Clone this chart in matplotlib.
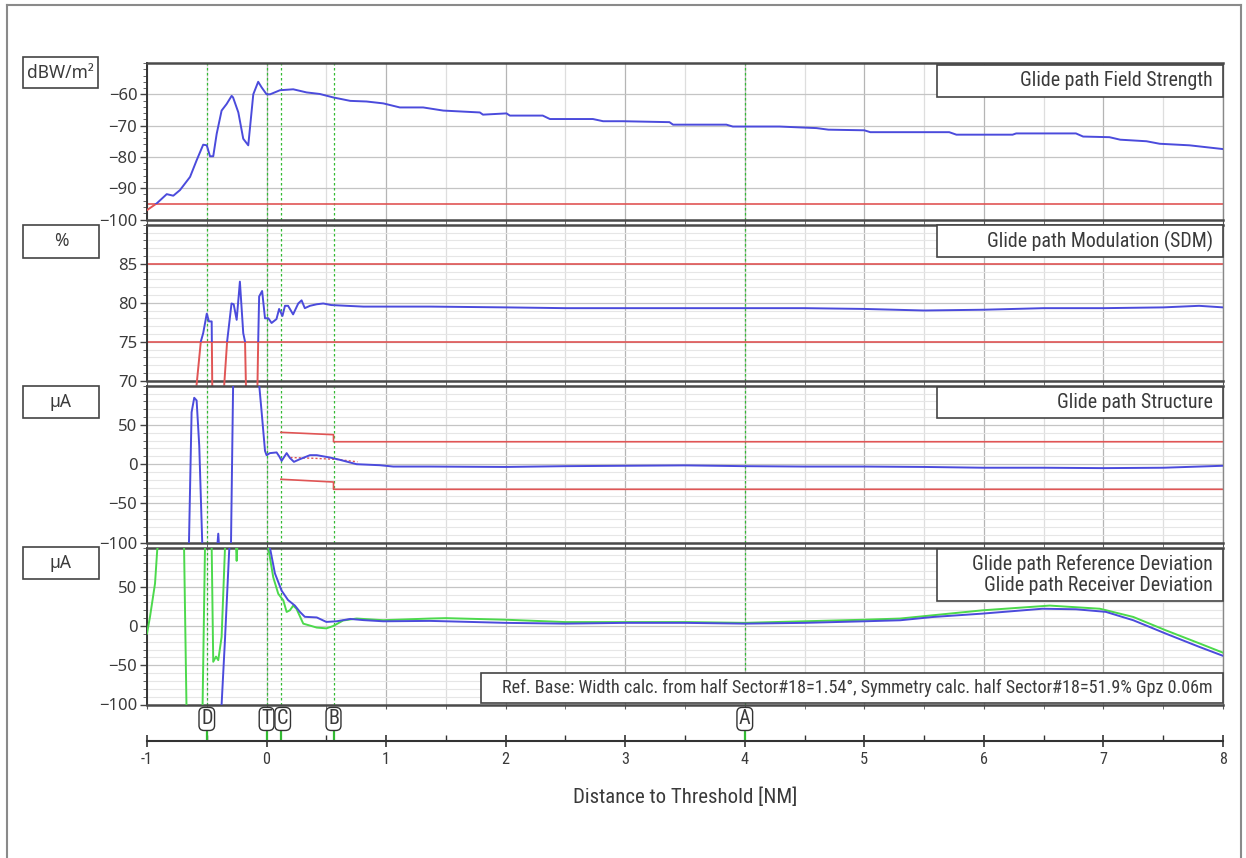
import os
import numpy as np
import matplotlib
matplotlib.use("Agg")
import matplotlib.pyplot as plt
from matplotlib import font_manager as fm
from matplotlib.patches import Rectangle
from matplotlib.lines import Line2D

# ---- data ----
# panel 1: glide path field strength [dBW/m2]
fs_x = [-1.0, -0.92, -0.835, -0.78, -0.724, -0.64, -0.585, -0.53, -0.50, -0.473, -0.446,
        -0.417, -0.376, -0.334, -0.292, -0.28, -0.236, -0.195, -0.153, -0.111, -0.07,
        -0.041, 0.0, 0.03, 0.112, 0.223, 0.335, 0.446, 0.558, 0.70, 0.836, 0.976, 1.115,
        1.31, 1.478, 1.784, 1.81, 2.007, 2.035, 2.31, 2.37, 2.73, 2.815, 2.98, 3.37, 3.40,
        3.846, 3.90, 4.29, 4.6, 4.7, 5.0, 5.05, 5.30, 5.71, 5.77, 6.24, 6.27, 6.77, 6.83,
        7.05, 7.14, 7.36, 7.47, 7.72, 8.0]
fs_y = [-97, -94.9, -91.9, -92.4, -90.6, -86.4, -81.1, -76.1, -76.3, -79.8, -79.8,
        -72.6, -65.2, -63.1, -60.5, -61, -65.8, -74.2, -76.3, -60, -56.0,
        -57.8, -60, -60, -58.7, -58.4, -59.4, -59.9, -61, -62.1, -62.3, -62.9, -64.2,
        -64.2, -65.2, -65.8, -66.5, -66.1, -66.8, -66.8, -67.9, -67.9, -68.6, -68.6, -68.9, -69.7,
        -69.7, -70.3, -70.3, -70.8, -71.3, -71.5, -72.1, -72.1, -72.1, -72.9, -72.9, -72.5, -72.5, -73.5,
        -73.7, -74.5, -75.0, -75.8, -76.3, -77.5]
fs_limit = -95

# panel 2: modulation SDM [%]
sdm_x = [-0.585, -0.55, -0.53, -0.50, -0.482, -0.459, -0.454, -0.40, -0.354, -0.33, -0.293,
         -0.275, -0.25, -0.223, -0.195, -0.18, -0.172, -0.12, -0.076, -0.07, -0.062, -0.037,
         -0.013, 0.015, 0.042, 0.083, 0.105, 0.133, 0.154, 0.18, 0.222, 0.265, 0.293, 0.32,
         0.363, 0.42, 0.474, 0.54, 0.67, 0.81, 1.37, 2.0, 2.5, 3.0, 3.5, 4.0, 4.5, 5.0, 5.5,
         6.0, 6.5, 7.0, 7.5, 7.8, 8.0]
sdm_y = [69.5, 75, 76.1, 78.6, 77.6, 77.6, 69.0, np.nan, 69.5, 75, 79.9,
         79.8, 77.8, 82.7, 76.1, 75, 69.0, np.nan, 69.5, 75, 80.8, 81.5,
         78.0, 78.0, 77.4, 77.9, 79.2, 78.3, 79.6, 79.6, 78.5, 79.9, 80.3, 79.3,
         79.6, 79.8, 79.9, 79.7, 79.6, 79.5, 79.5, 79.4, 79.3, 79.3, 79.3, 79.3, 79.3, 79.2, 79.0,
         79.1, 79.3, 79.3, 79.4, 79.6, 79.4]
sdm_limits = [75, 85]

# panel 3: structure [uA]
st_x = [-0.66, -0.649, -0.627, -0.605, -0.585, -0.563, -0.538, -0.53, -0.45, -0.415, -0.404,
        -0.395, -0.35, -0.30, -0.279, -0.2, -0.061, -0.041, -0.013, 0.0, 0.028, 0.084,
        0.106, 0.126, 0.168, 0.195, 0.229, 0.279, 0.363, 0.42, 0.53, 0.613, 0.753, 0.948,
        1.06, 1.37, 2.0, 2.5, 3.0, 3.5, 4.0, 4.5, 5.0, 5.5, 6.0, 6.5, 7.0, 7.5, 8.0]
st_y = [-130, -100, 66.2, 84.6, 81.2, 23.5, -100, -130, np.nan, -110, -88.5,
        -110, np.nan, -130, 109, 150, 100, 66.2, 17, 11.5, 14.1, 15,
        10, 4.3, 14.1, 8, 3, 6.4, 11.5, 11.5, 8.5, 5.6, 0, -1.3,
        -3, -3, -3.5, -2.5, -2, -1.5, -2.5, -3, -3, -3.5, -4.5, -4.5, -5, -4.5, -2]
st_up_x = [0.12, 0.56, 0.56, 8.0]
st_up_y = [40.6, 37.6, 28.6, 28.6]
st_lo_x = [0.12, 0.56, 0.56, 8.0]
st_lo_y = [-19.2, -22.7, -32, -32]
st_mean_x = [0.2, 0.4, 0.6, 0.76]
st_mean_y = [8.5, 7.5, 6, 3]

# panel 4: reference (green) and receiver (blue) deviation [uA]
ref_x = [-1.0, -0.975, -0.933, -0.914, -0.80, -0.69, -0.67, -0.60, -0.535, -0.515, -0.48,
         -0.459, -0.446, -0.423, -0.404, -0.376, -0.348, -0.30, -0.255, -0.25, -0.245, -0.20,
         0.014, 0.056, 0.098, 0.14, 0.168, 0.195, 0.223, 0.25, 0.307, 0.42, 0.50, 0.558,
         0.64, 0.753, 0.976, 1.09, 1.366, 1.5, 2.0, 2.5, 3.0, 3.5, 4.0, 4.5, 5.0, 5.3, 5.99,
         6.55, 6.97, 7.25, 7.52, 7.80, 8.0]
ref_y = [-9.6, 11.7, 54, 98, 150, 100, -100, -150, -100, 100, 150,
         100, -45.6, -39, -43.5, -14, 98, 150, 100, 83, 100, 150,
         100, 62, 41, 32.7, 17.9, 20, 26, 22, 3, -2, -3, 0,
         7, 9.5, 7.4, 8, 9.5, 10, 8, 5, 5, 5, 4, 6, 8, 9.5, 20,
         26, 22, 11.5, -5.4, -22, -34]
rcv_x = [-0.40, -0.376, -0.348, -0.312, -0.25, 0.028, 0.07, 0.126, 0.18, 0.237, 0.279,
         0.32, 0.42, 0.50, 0.586, 0.70, 0.81, 0.976, 1.366, 1.5, 2.0, 2.5, 3.0, 3.5, 4.0,
         4.5, 5.0, 5.30, 5.575, 5.99, 6.49, 6.77, 7.02, 7.25, 7.52, 7.80, 8.0]
rcv_y = [-150, -100, -18, 98, 150, 100, 67, 45, 33, 26, 18,
         11.7, 10.9, 5.2, 6, 9, 7.5, 6, 6.5, 6, 4, 3, 4, 4, 3,
         4, 6, 7.3, 11.5, 15.8, 22, 21.3, 18, 7.3, -9.6, -26.5, -38]

# markers along the approach
marker_names = ["D", "T", "C", "B", "A"]
marker_x = [-0.5, 0.0, 0.12, 0.56, 4.0]

titles = ["Glide path Field Strength", "Glide path Modulation (SDM)", "Glide path Structure",
          "Glide path Reference Deviation\nGlide path Receiver Deviation"]
units = ["dBW/m²", "%", "µA", "µA"]
footnote = ("Ref. Base: Width calc. from half Sector#18=1.54°, "
            "Symmetry calc. half Sector#18=51.9% Gpz 0.06m")


# ---- fonts: the report uses a narrow sans, look for one that is installed ----
def find_narrow_font():
    prefs = ["liberationsansnarrow-regular", "robotocondensed-regular", "notosans-condensed.",
             "opensans_condensed-regular", "opensans-condensed", "dejavusanscondensed."]
    files = []
    for f in fm.fontManager.ttflist:
        base = os.path.basename(f.fname).lower()
        if "mono" in base or "serif" in f.name.lower() or f.style != "normal":
            continue
        if "narrow" in base or "condensed" in base:
            if any(k in base for k in ("bold", "italic", "light", "thin", "black", "medium")):
                continue
            files.append(f.fname)
    for p in prefs:
        for fn in files:
            if p in os.path.basename(fn).lower():
                return fm.FontProperties(fname=fn)
    for fn in files:
        b = os.path.basename(fn).lower()
        if "semi" not in b and "extra" not in b:
            return fm.FontProperties(fname=fn)
    return fm.FontProperties(family=["Liberation Sans", "DejaVu Sans"])


NARROW = find_narrow_font()
REG = ["Noto Sans", "DejaVu Sans"]
TXT = "#3a3a3a"
BLUE = "#4b4bdc"
GREEN = "#4cd94c"
RED = "#e05555"
MGREEN = "#33bb33"

W, H = 1246, 858
fig = plt.figure(figsize=(W / 100, H / 100), dpi=100)
renderer = fig.canvas.get_renderer()

# footnote spans about 708 px in the reference: size the narrow font from it
probe = fig.text(0, 0, footnote, fontproperties=NARROW, fontsize=13)
scale = 708 / probe.get_window_extent(renderer=renderer).width
probe.remove()
NS = min(13 * scale, 14)


def add_panel(top, bottom):
    return fig.add_axes([147 / W, 1 - bottom / H, 1076 / W, (bottom - top) / H])


def fig_box(x0, y0, x1, y1, **kw):
    r = Rectangle((x0 / W, 1 - y1 / H), (x1 - x0) / W, (y1 - y0) / H,
                  transform=fig.transFigure, fc="white", ec="#444444", lw=1.2, **kw)
    fig.add_artist(r)


def style_panel(ax, ylim, major, minor, minor_grid):
    ax.set_xlim(-1, 8)
    ax.set_ylim(*ylim)
    ax.set_xticks(np.arange(-1, 8.01, 1))
    ax.set_xticks(np.arange(-1, 8.01, 0.5), minor=True)
    ax.set_yticks(major)
    ax.set_yticks(minor, minor=True)
    ax.set_axisbelow(True)
    ax.grid(which="major", axis="x", color="#b5b5b5", lw=0.9)
    ax.grid(which="minor", axis="x", color="#dedede", lw=0.9)
    ax.grid(which="major", axis="y", color="#c4c4c4", lw=0.9)
    if minor_grid:
        ax.grid(which="minor", axis="y", color="#e6e6e6", lw=0.8)
    ax.tick_params(axis="x", which="both", labelbottom=False, length=3, color="#555555")
    ax.tick_params(axis="y", which="major", length=5, width=1, color="#444444",
                   labelsize=12, labelcolor=TXT, pad=2)
    ax.tick_params(axis="y", which="minor", length=3, width=0.7, color="#666666")
    for lab in ax.get_yticklabels():
        lab.set_family(REG)
    for s in ["top", "bottom"]:
        ax.spines[s].set_color("#4a4a4a")
        ax.spines[s].set_linewidth(1.8)
    ax.spines["left"].set_color("#333333")
    ax.spines["left"].set_linewidth(1.4)
    ax.spines["right"].set_color("#888888")
    ax.spines["right"].set_linewidth(1.0)
    for mx in marker_x:
        ax.axvline(mx, color=MGREEN, lw=0.9, ls=(0, (2, 2)), zorder=1.5)


# panel 1
ax1 = add_panel(63, 219.5)
style_panel(ax1, (-100, -50), np.arange(-100, -59, 10), np.arange(-100, -49, 2), False)
ax1.axhline(fs_limit, color=RED, lw=1.2, zorder=2)
lb, = ax1.plot(fs_x, fs_y, color=BLUE, lw=1.4, zorder=3)
lr, = ax1.plot(fs_x, fs_y, color=RED, lw=1.4, zorder=3)
lb.set_clip_path(Rectangle((-1, fs_limit), 9, 60, transform=ax1.transData))
lr.set_clip_path(Rectangle((-1, -120), 9, 120 + fs_limit, transform=ax1.transData))

# panel 2
ax2 = add_panel(224.7, 380.7)
style_panel(ax2, (70, 90), [70, 75, 80, 85], np.arange(70, 90.1, 1), True)
for lim in sdm_limits:
    ax2.axhline(lim, color=RED, lw=1.2, zorder=2)
lb, = ax2.plot(sdm_x, sdm_y, color=BLUE, lw=1.4, zorder=3)
lr, = ax2.plot(sdm_x, sdm_y, color=RED, lw=1.4, zorder=3)
lb.set_clip_path(Rectangle((-1, sdm_limits[0]), 9, sdm_limits[1] - sdm_limits[0], transform=ax2.transData))
lr.set_clip_path(Rectangle((-1, 60), 9, sdm_limits[0] - 60, transform=ax2.transData))

# panel 3
ax3 = add_panel(385.7, 542.7)
style_panel(ax3, (-100, 100), [-100, -50, 0, 50], np.arange(-100, 101, 10), True)
ax3.plot(st_up_x, st_up_y, color=RED, lw=1.2, zorder=2)
ax3.plot(st_lo_x, st_lo_y, color=RED, lw=1.2, zorder=2)
ax3.plot(st_mean_x, st_mean_y, color=RED, lw=1.0, ls=(0, (1.5, 1.5)), zorder=2)
ax3.plot(st_x, st_y, color=BLUE, lw=1.4, zorder=3)

# panel 4
ax4 = add_panel(547.5, 704.5)
style_panel(ax4, (-100, 100), [-100, -50, 0, 50], np.arange(-100, 101, 10), True)
ax4.plot(ref_x, ref_y, color=GREEN, lw=1.4, zorder=3)
ax4.plot(rcv_x, rcv_y, color=BLUE, lw=1.4, zorder=3)

# marker / distance axis
axm = fig.add_axes([147 / W, 1 - 741 / H, 1076 / W, 35 / H])
axm.set_xlim(-1, 8)
axm.set_ylim(0, 1)
for s in ["top", "left", "right"]:
    axm.spines[s].set_visible(False)
axm.spines["bottom"].set_color("#333333")
axm.spines["bottom"].set_linewidth(1.5)
axm.set_yticks([])
axm.set_xticks(np.arange(-1, 8.01, 1))
axm.set_xticklabels([str(v) for v in range(-1, 9)], fontproperties=NARROW)
axm.set_xticks(np.arange(-1, 8.01, 0.5), minor=True)
axm.tick_params(axis="x", which="major", direction="inout", length=8, width=1.2,
                color="#333333", labelsize=NS * 0.9, labelcolor=TXT, pad=4)
axm.tick_params(axis="x", which="minor", direction="in", length=4, width=1, color="#333333")
axm.patch.set_alpha(0)
axm.vlines(marker_x, 0, 0.3, color=MGREEN, lw=1.6)
for name, mx in zip(marker_names, marker_x):
    off = 0.015 if name == "C" else 0.0
    axm.text(mx + off, 0.63, name, ha="center", va="center", fontproperties=NARROW,
             fontsize=NS * 1.12, color=TXT,
             bbox=dict(boxstyle="round,pad=0.1,rounding_size=0.25", fc="white",
                       ec="#333333", lw=1.0))

fig.text(685 / W, 1 - 797 / H, "Distance to Threshold [NM]", ha="center", va="center",
         fontproperties=NARROW, fontsize=NS * 1.15, color=TXT)

# unit boxes on the left
unit_boxes = [(23, 57, 98, 88), (23, 225, 99, 257.5), (23, 386, 99, 418), (23, 547, 99, 579)]
for (x0, y0, x1, y1), u in zip(unit_boxes, units):
    fig_box(x0, y0, x1, y1)
    fig.text((x0 + x1) / 2 / W, 1 - (y0 + y1) / 2 / H, u, ha="center", va="center",
             fontsize=12.5, color=TXT, family=REG)

# title boxes at the top right of each panel
title_boxes = [(936.5, 64.5, 1222.5, 96.5), (936.5, 225.5, 1222.5, 256.5),
               (936.5, 386.5, 1222.5, 418), (936.5, 548.5, 1222.5, 601)]
for (x0, y0, x1, y1), t in zip(title_boxes, titles):
    fig_box(x0, y0, x1, y1, zorder=5)
    fig.text(1213 / W, 1 - (y0 + y1) / 2 / H, t, ha="right", va="center",
             fontproperties=NARROW, fontsize=NS * 1.1, color=TXT, linespacing=1.15, zorder=6)

fig_box(481, 672.5, 1222.5, 702.5, zorder=5)
fig.text(1213 / W, 1 - 687.5 / H, footnote, ha="right", va="center",
         fontproperties=NARROW, fontsize=NS, color=TXT, zorder=6)

# outer frame of the report page
for xs, ys in [([7, 7], [5, 870]), ([7, 1241], [5, 5]), ([1241, 1241], [5, 870])]:
    fig.add_artist(Line2D([x / W for x in xs], [1 - y / H for y in ys],
                          transform=fig.transFigure, color="#8a8a8a", lw=1.5))

fig.savefig("out.png", dpi=100)
